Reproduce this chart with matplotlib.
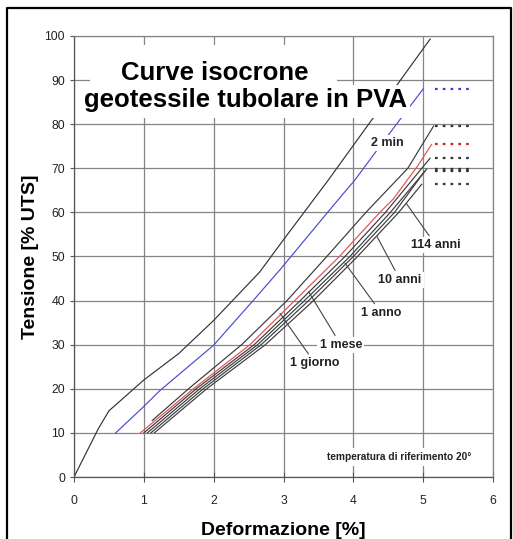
import matplotlib
matplotlib.use("Agg")
import matplotlib.pyplot as plt
from matplotlib.lines import Line2D
from matplotlib.patches import Rectangle

plt.rcParams['font.family'] = ['Liberation Sans', 'DejaVu Sans']

# short-term tensile curve (black, from origin)
tens_x = [0, 0.35, 0.5, 1.0, 1.5, 2.0, 2.66, 3.0, 3.64, 4.0, 5.1]
tens_y = [0, 11, 15, 22, 28, 35.5, 46.5, 53.8, 67.3, 75.2, 99.3]

# 2 min isochrone (blue)
min2_x = [0.59, 1.0, 1.23, 2.0, 2.57, 2.95, 3.71, 4.02, 4.24, 4.57, 5.0]
min2_y = [9.9, 16.0, 19.6, 29.9, 40.1, 47.0, 61.5, 67.3, 72.0, 79.0, 88.0]

# bundle of long-term isochrones
c1_x = [1.12, 1.64, 2.4, 3.05, 3.62, 4.18, 4.78, 5.15]
c1_y = [12.8, 20, 30, 40, 50, 60, 70, 79.6]
red_x = [0.95, 1.71, 2.52, 3.16, 3.8, 4.38, 4.57, 4.92, 5.12]
red_y = [10, 20, 30, 40, 50, 60, 63, 70.5, 75.4]
c3_x = [1.0, 1.75, 2.58, 3.24, 3.88, 4.46, 5.1]
c3_y = [10, 20, 30, 40, 50, 60, 72.3]
c4_x = [1.05, 1.8, 2.63, 3.3, 3.95, 4.53, 5.05]
c4_y = [10, 20, 30, 40, 50, 60, 69.8]
c5_x = [1.1, 1.85, 2.68, 3.36, 4.0, 4.59, 5.02]
c5_y = [10, 20, 30, 40, 50, 60, 69.3]
c6_x = [1.15, 1.9, 2.74, 3.43, 4.06, 4.65, 4.98]
c6_y = [10, 20, 30, 40, 50, 60, 66.4]

# dotted plateaus at the right
plateau_x = [5.17, 5.72]
plateau_y = [88.0, 79.6, 75.4, 72.3, 69.8, 69.3, 66.4]
plateau_c = ['#3d3dd6', '#333333', '#e02020', '#333333', '#333333', '#333333', '#333333']

# labels with leader lines: text, label position, tip on curve
lab_text = ['114 anni', '10 anni', '1 anno', '1 mese', '1 giorno']
lab_x = [5.18, 4.67, 4.4, 3.82, 3.45]
lab_y = [52.6, 44.7, 37.2, 30.0, 25.8]
tip_x = [4.76, 4.34, 3.88, 3.36, 2.95]
tip_y = [62.0, 54.5, 48.5, 42.0, 37.1]

x_ticks = [0, 1, 2, 3, 4, 5, 6]
y_ticks = [0, 10, 20, 30, 40, 50, 60, 70, 80, 90, 100]


def main():
  fig = plt.figure(figsize=(5.13, 5.39), dpi=100)
  ax = fig.add_axes([74/513, 62/539, 419/513, 441/539])
  ax.set_xlim(0, 6)
  ax.set_ylim(0, 100)
  ax.set_xticks(x_ticks)
  ax.set_yticks(y_ticks)
  ax.grid(True, color='#858585', lw=0.9)
  ax.set_axisbelow(True)
  for s in ['top', 'right']:
    ax.spines[s].set_color('#858585')
    ax.spines[s].set_linewidth(0.9)
  for s in ['left', 'bottom']:
    ax.spines[s].set_color('#555555')
    ax.spines[s].set_linewidth(0.9)
  ax.tick_params(axis='y', direction='out', length=3, width=0.8, color='#555555',
                 pad=3.5, labelsize=8.8, labelcolor='#222222')
  ax.tick_params(axis='x', direction='inout', length=7, width=0.8, color='#555555',
                 pad=9.5, labelsize=8.8, labelcolor='#222222')

  lw = 0.85
  ax.plot(tens_x, tens_y, color='#333333', lw=lw, zorder=2)
  ax.plot(min2_x, min2_y, color='#4a4ad0', lw=lw, zorder=2)
  for xs, ys in [(c1_x, c1_y), (c3_x, c3_y), (c4_x, c4_y), (c5_x, c5_y), (c6_x, c6_y)]:
    ax.plot(xs, ys, color='#3a3a3a', lw=lw, zorder=2)
  ax.plot(red_x, red_y, color='#e05050', lw=lw, zorder=3)

  for yv, c in zip(plateau_y, plateau_c):
    ax.plot(plateau_x, [yv, yv], color=c, lw=1.6, ls=(0, (1.2, 2.3)), zorder=3)

  # title on white boxes
  ax.add_patch(Rectangle((0.23, 88.9), 3.54, 9.1, facecolor='white', edgecolor='none', zorder=4))
  ax.add_patch(Rectangle((0.11, 81.4), 4.70, 7.5, facecolor='white', edgecolor='none', zorder=4))
  ax.text(2.02, 91.6, 'Curve isocrone', fontsize=18.5, fontweight='bold',
          ha='center', va='center', zorder=5)
  ax.text(2.45, 85.5, 'geotessile tubolare in PVA', fontsize=18.5, fontweight='bold',
          ha='center', va='center', zorder=5)

  box = dict(facecolor='white', edgecolor='none', pad=1.5)
  ax.text(4.48, 75.7, '2 min', fontsize=9, fontweight='bold', ha='center', va='center',
          color='#222222', bbox=box, zorder=6)
  for t, lx, ly, tx, ty in zip(lab_text, lab_x, lab_y, tip_x, tip_y):
    ax.annotate(t, xy=(tx, ty), xytext=(lx, ly), fontsize=9, fontweight='bold',
                ha='center', va='center', color='#222222', bbox=box, zorder=6,
                arrowprops=dict(arrowstyle='-', color='#444444', lw=0.8,
                                shrinkA=1, shrinkB=0))
  ax.text(4.66, 4.6, 'temperatura di riferimento 20°', fontsize=7.3, fontweight='bold',
          ha='center', va='center', color='#222222', bbox=dict(facecolor='white',
          edgecolor='none', pad=3), zorder=6)

  ax.set_xlabel('Deformazione [%]', fontsize=14, fontweight='bold', labelpad=11)
  ax.set_ylabel('Tensione [% UTS]', fontsize=14, fontweight='bold', labelpad=4)

  # outer frame (left, top, right)
  xl, xr, yt = 7/513, 511/513, 1 - 8/539
  fig.add_artist(Line2D([xl, xl, xr, xr], [0, yt, yt, 0], color='black', lw=1.6,
                        transform=fig.transFigure))

  fig.savefig('out.png', dpi=100)
  plt.close(fig)


if __name__ == "__main__":
  main()
